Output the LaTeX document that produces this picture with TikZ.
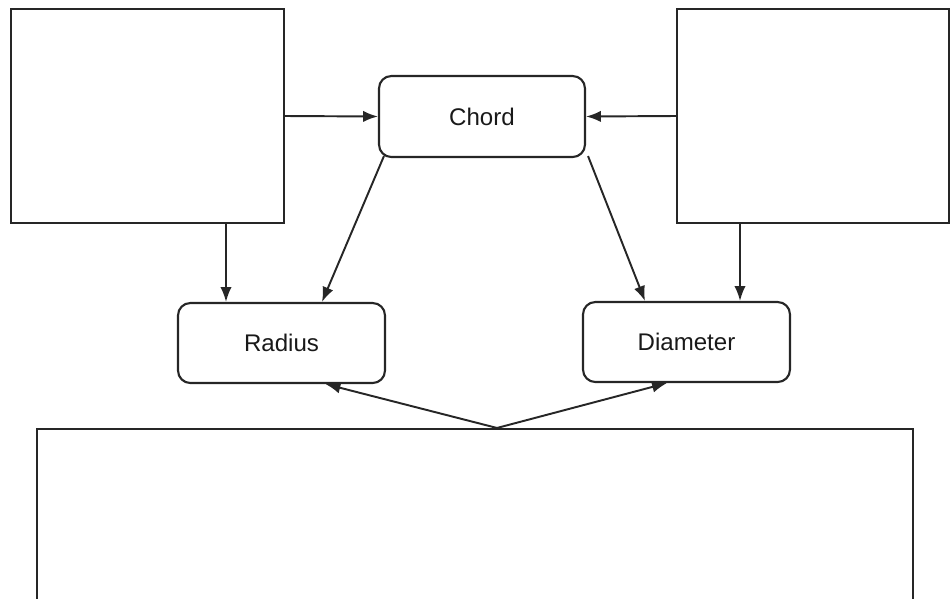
\documentclass[tikz,border=0pt]{standalone}
\usepackage{fontspec}
\setmainfont{Liberation Sans}
\usetikzlibrary{arrows.meta,calc}
\begin{document}
\begin{tikzpicture}[x=0.02cm,y=-0.02cm,
  line width=1.1pt, draw=black!85,
  plainbox/.style={draw=black!85, line width=1.2pt, rectangle, inner sep=0pt},
  roundbox/.style={draw=black!85, line width=1.2pt, rectangle, rounded corners=7pt, inner sep=0pt,
     minimum width=4.14cm, minimum height=1.6cm, font=\fontsize{13.7}{16}\selectfont, text=black!90},
  arr/.style={draw=black!85, line width=1.1pt, -{Latex[length=8.5pt,width=6.5pt]}}]
\useasboundingbox (0,0) rectangle (951,599);
\clip (0,0) rectangle (951,599);
\node[plainbox, minimum width=5.46cm, minimum height=4.28cm] (left) at (147.5,116) {};
\node[plainbox, minimum width=5.44cm, minimum height=4.28cm] (right) at (813,116) {};
\node[roundbox, minimum width=4.12cm, minimum height=1.62cm] (chord) at (482,116.5) {Chord};
\node[roundbox] (radius) at (281.5,343) {Radius};
\node[roundbox] (diameter) at (686.5,342) {Diameter};
\node[plainbox, minimum width=17.52cm, minimum height=4.22cm] (bottom) at (475,534.5) {};
\coordinate (split) at ($(bottom.north)+(22,0)$);
\draw[arr] (left.east) -- (chord.west);
\draw[arr] (right.west) -- (chord.east);
\draw[arr] ($(left.south)+(78.5,0)$) -- ($(radius.north)+(-55.5,0)$);
\draw[arr] ($(right.south)+(-73,0)$) -- ($(diameter.north)+(53.5,0)$);
\draw[arr] ($(chord.south west)+(6,-2)$) -- ($(radius.north)+(40.5,0)$);
\draw[arr] ($(chord.south east)+(2,-2)$) -- ($(diameter.north)+(-41.5,0)$);
\draw[arr] (split) -- ($(radius.south)+(44,0)$);
\draw[arr] (split) -- ($(diameter.south)+(-19.5,0)$);
\end{tikzpicture}
\end{document}
